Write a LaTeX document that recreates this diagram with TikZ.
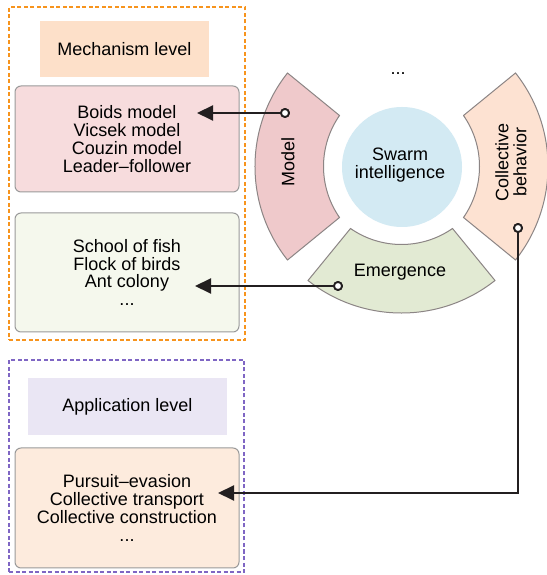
\documentclass[tikz,border=0pt]{standalone}
\usepackage{fontspec}
\setmainfont{Liberation Sans}
\usetikzlibrary{arrows.meta}
\definecolor{orangeDash}{HTML}{F7941D}
\definecolor{purpleDash}{HTML}{7F66C4}
\definecolor{mechFill}{HTML}{FDE0C9}
\definecolor{appFill}{HTML}{EAE6F4}
\definecolor{pinkBox}{HTML}{F7DCDD}
\definecolor{greenBox}{HTML}{F5F8ED}
\definecolor{peachBox}{HTML}{FDEBDD}
\definecolor{modelFill}{HTML}{EFC9CB}
\definecolor{emerFill}{HTML}{E2EAD3}
\definecolor{collFill}{HTML}{FDE2D2}
\definecolor{swarmFill}{HTML}{D3EAF3}
\definecolor{boxEdge}{HTML}{9A9A9A}
\definecolor{segEdge}{HTML}{8C8585}
\definecolor{lineCol}{HTML}{231F20}
\begin{document}
\begin{tikzpicture}[x=1pt,y=1pt,
  every node/.style={font=\fontsize{18}{17.9}\selectfont, text=black},
  levelbox/.style={draw=none, inner sep=0pt},
  itembox/.style={draw=boxEdge, line width=1pt, rounded corners=6pt, align=center, inner sep=0pt},
  dashframe/.style={line width=2.4pt, dash pattern=on 4pt off 2.5pt},
  segment/.style={draw=segEdge, line width=1pt},
  conn/.style={draw=lineCol, line width=2pt, -{Triangle[length=16pt,width=15pt]}},
  endring/.style={circle, draw=lineCol, fill=white, line width=1.8pt, minimum size=8pt, inner sep=0pt}
]
\useasboundingbox (0,0) rectangle (546,575);
\fill[white] (0,0) rectangle (546,575);

% level frames
\node[draw=orangeDash, dashframe, minimum width=236pt, minimum height=333pt, inner sep=0pt] (mframe) at (127,401.5) {};
\node[draw=purpleDash, dashframe, minimum width=235pt, minimum height=212pt, inner sep=0pt] (aframe) at (126.5,109) {};

\node[levelbox, fill=mechFill, minimum width=169pt, minimum height=56pt] (mech) at (124.5,526) {Mechanism level};
\node[itembox, fill=pinkBox, minimum width=224pt, minimum height=106pt] (models) at (127,436)
  {Boids model\\Vicsek model\\Couzin model\\Leader--follower};
\node[itembox, fill=greenBox, minimum width=224pt, minimum height=119pt] (nature) at (127,302.5)
  {School of fish\\Flock of birds\\Ant colony\\...};

\node[levelbox, fill=appFill, minimum width=199pt, minimum height=57pt] (app) at (127.5,168.5) {Application level};
\node[itembox, fill=peachBox, minimum width=224pt, minimum height=120pt] (apps) at (127,67)
  {Pursuit--evasion\\Collective transport\\Collective construction\\...};

% ring segments
\begin{scope}[shift={(401.5,408.5)}]
  \foreach \rot/\col in {180/modelFill, -90/emerFill, 0/collFill}{
    \begin{scope}[rotate=\rot]
      \filldraw[segment, fill=\col] (62,51) -- (114,93.5)
        arc[start angle=38.35, end angle=-38.35, radius=150.7]
        -- (62,-51) arc[start angle=-34.83, end angle=34.83, radius=89.3] -- cycle;
    \end{scope}
  }
\end{scope}

\node[circle, fill=swarmFill, minimum size=120pt, inner sep=0pt, align=center] (swarm) at (402,408) {};
\node[align=center] (swarmtxt) at (400,410) {Swarm\\intelligence};
\node[rotate=90] (model) at (288,413) {Model};
\node[rotate=90, align=center] (coll) at (511,413) {Collective\\behavior};
\node (emer) at (400,303) {Emergence};
\node[anchor=base] (more) at (398,500) {...};

% connectors
\node[endring] (mc) at (285,462) {};
\node[endring] (ec) at (338,289) {};
\node[endring] (cc) at (518,347) {};
\coordinate (mtip) at (197,462);
\coordinate (etip) at (195,289);
\coordinate (atip) at (218,82);

\draw[conn] (mc) -- (mtip);
\draw[conn] (ec) -- (etip);
\draw[conn] (cc) |- (atip);
\node[endring] at (mc) {};
\node[endring] at (ec) {};
\node[endring] at (cc) {};
\end{tikzpicture}
\end{document}
